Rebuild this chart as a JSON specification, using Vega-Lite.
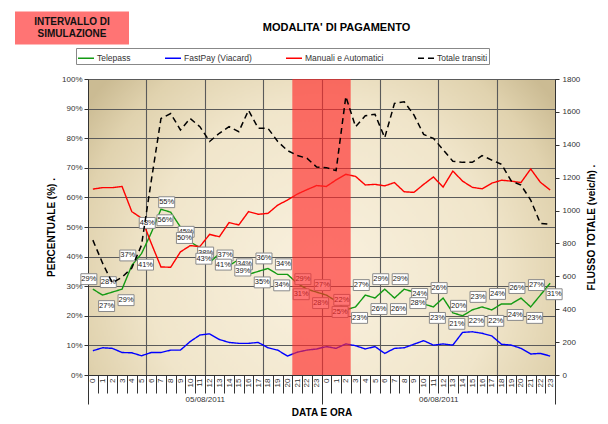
{
  "$schema": "https://vega.github.io/schema/vega-lite/v6.json",
  "width": 467,
  "height": 296,
  "autosize": {"type": "none"},
  "padding": {"left": 88, "top": 79, "right": 53, "bottom": 49},
  "background": "white",
  "title": {"text": "MODALITA' DI PAGAMENTO", "anchor": "middle", "frame": "group", "dx": 15, "offset": 0, "dy": 62, "font": "Liberation Sans", "fontSize": 11, "fontWeight": "bold", "color": "#000"},
  "datasets": {
    "serie": [
      {"idx": 0, "Telepass": 0.29, "FastPay (Viacard)": 0.082, "Manuali e Automatici": 0.628, "Totale transiti": 820},
      {"idx": 1, "Telepass": 0.27, "FastPay (Viacard)": 0.092, "Manuali e Automatici": 0.633, "Totale transiti": 680},
      {"idx": 2, "Telepass": 0.28, "FastPay (Viacard)": 0.090, "Manuali e Automatici": 0.633, "Totale transiti": 560},
      {"idx": 3, "Telepass": 0.29, "FastPay (Viacard)": 0.076, "Manuali e Automatici": 0.637, "Totale transiti": 595},
      {"idx": 4, "Telepass": 0.37, "FastPay (Viacard)": 0.075, "Manuali e Automatici": 0.552, "Totale transiti": 650},
      {"idx": 5, "Telepass": 0.41, "FastPay (Viacard)": 0.065, "Manuali e Automatici": 0.530, "Totale transiti": 790},
      {"idx": 6, "Telepass": 0.48, "FastPay (Viacard)": 0.076, "Manuali e Automatici": 0.445, "Totale transiti": 1180},
      {"idx": 7, "Telepass": 0.56, "FastPay (Viacard)": 0.076, "Manuali e Automatici": 0.365, "Totale transiti": 1560},
      {"idx": 8, "Telepass": 0.55, "FastPay (Viacard)": 0.084, "Manuali e Automatici": 0.364, "Totale transiti": 1590},
      {"idx": 9, "Telepass": 0.50, "FastPay (Viacard)": 0.084, "Manuali e Automatici": 0.416, "Totale transiti": 1490},
      {"idx": 10, "Telepass": 0.45, "FastPay (Viacard)": 0.113, "Manuali e Automatici": 0.437, "Totale transiti": 1560},
      {"idx": 11, "Telepass": 0.43, "FastPay (Viacard)": 0.135, "Manuali e Automatici": 0.434, "Totale transiti": 1510},
      {"idx": 12, "Telepass": 0.38, "FastPay (Viacard)": 0.139, "Manuali e Automatici": 0.475, "Totale transiti": 1420},
      {"idx": 13, "Telepass": 0.41, "FastPay (Viacard)": 0.120, "Manuali e Automatici": 0.467, "Totale transiti": 1470},
      {"idx": 14, "Telepass": 0.37, "FastPay (Viacard)": 0.110, "Manuali e Automatici": 0.515, "Totale transiti": 1510},
      {"idx": 15, "Telepass": 0.39, "FastPay (Viacard)": 0.107, "Manuali e Automatici": 0.507, "Totale transiti": 1480},
      {"idx": 16, "Telepass": 0.34, "FastPay (Viacard)": 0.107, "Manuali e Automatici": 0.552, "Totale transiti": 1610},
      {"idx": 17, "Telepass": 0.35, "FastPay (Viacard)": 0.110, "Manuali e Automatici": 0.543, "Totale transiti": 1500},
      {"idx": 18, "Telepass": 0.36, "FastPay (Viacard)": 0.092, "Manuali e Automatici": 0.546, "Totale transiti": 1500},
      {"idx": 19, "Telepass": 0.34, "FastPay (Viacard)": 0.084, "Manuali e Automatici": 0.574, "Totale transiti": 1420},
      {"idx": 20, "Telepass": 0.34, "FastPay (Viacard)": 0.064, "Manuali e Automatici": 0.591, "Totale transiti": 1365},
      {"idx": 21, "Telepass": 0.31, "FastPay (Viacard)": 0.077, "Manuali e Automatici": 0.611, "Totale transiti": 1335},
      {"idx": 22, "Telepass": 0.29, "FastPay (Viacard)": 0.084, "Manuali e Automatici": 0.626, "Totale transiti": 1318},
      {"idx": 23, "Telepass": 0.28, "FastPay (Viacard)": 0.088, "Manuali e Automatici": 0.640, "Totale transiti": 1265},
      {"idx": 24, "Telepass": 0.27, "FastPay (Viacard)": 0.096, "Manuali e Automatici": 0.637, "Totale transiti": 1261},
      {"idx": 25, "Telepass": 0.25, "FastPay (Viacard)": 0.090, "Manuali e Automatici": 0.659, "Totale transiti": 1243},
      {"idx": 26, "Telepass": 0.22, "FastPay (Viacard)": 0.105, "Manuali e Automatici": 0.678, "Totale transiti": 1693},
      {"idx": 27, "Telepass": 0.23, "FastPay (Viacard)": 0.099, "Manuali e Automatici": 0.671, "Totale transiti": 1510},
      {"idx": 28, "Telepass": 0.27, "FastPay (Viacard)": 0.088, "Manuali e Automatici": 0.642, "Totale transiti": 1577},
      {"idx": 29, "Telepass": 0.26, "FastPay (Viacard)": 0.096, "Manuali e Automatici": 0.644, "Totale transiti": 1585},
      {"idx": 30, "Telepass": 0.29, "FastPay (Viacard)": 0.073, "Manuali e Automatici": 0.639, "Totale transiti": 1443},
      {"idx": 31, "Telepass": 0.26, "FastPay (Viacard)": 0.090, "Manuali e Automatici": 0.650, "Totale transiti": 1652},
      {"idx": 32, "Telepass": 0.29, "FastPay (Viacard)": 0.092, "Manuali e Automatici": 0.619, "Totale transiti": 1662},
      {"idx": 33, "Telepass": 0.28, "FastPay (Viacard)": 0.104, "Manuali e Automatici": 0.617, "Totale transiti": 1581},
      {"idx": 34, "Telepass": 0.24, "FastPay (Viacard)": 0.116, "Manuali e Automatici": 0.644, "Totale transiti": 1463},
      {"idx": 35, "Telepass": 0.23, "FastPay (Viacard)": 0.101, "Manuali e Automatici": 0.669, "Totale transiti": 1439},
      {"idx": 36, "Telepass": 0.26, "FastPay (Viacard)": 0.105, "Manuali e Automatici": 0.635, "Totale transiti": 1370},
      {"idx": 37, "Telepass": 0.21, "FastPay (Viacard)": 0.101, "Manuali e Automatici": 0.689, "Totale transiti": 1300},
      {"idx": 38, "Telepass": 0.20, "FastPay (Viacard)": 0.144, "Manuali e Automatici": 0.655, "Totale transiti": 1293},
      {"idx": 39, "Telepass": 0.22, "FastPay (Viacard)": 0.146, "Manuali e Automatici": 0.634, "Totale transiti": 1293},
      {"idx": 40, "Telepass": 0.23, "FastPay (Viacard)": 0.141, "Manuali e Automatici": 0.629, "Totale transiti": 1334},
      {"idx": 41, "Telepass": 0.22, "FastPay (Viacard)": 0.132, "Manuali e Automatici": 0.648, "Totale transiti": 1307},
      {"idx": 42, "Telepass": 0.24, "FastPay (Viacard)": 0.104, "Manuali e Automatici": 0.658, "Totale transiti": 1281},
      {"idx": 43, "Telepass": 0.24, "FastPay (Viacard)": 0.101, "Manuali e Automatici": 0.655, "Totale transiti": 1180},
      {"idx": 44, "Telepass": 0.26, "FastPay (Viacard)": 0.090, "Manuali e Automatici": 0.650, "Totale transiti": 1155},
      {"idx": 45, "Telepass": 0.23, "FastPay (Viacard)": 0.071, "Manuali e Automatici": 0.696, "Totale transiti": 1064},
      {"idx": 46, "Telepass": 0.27, "FastPay (Viacard)": 0.073, "Manuali e Automatici": 0.651, "Totale transiti": 922},
      {"idx": 47, "Telepass": 0.31, "FastPay (Viacard)": 0.064, "Manuali e Automatici": 0.625, "Totale transiti": 916}
    ],
    "simulazione": [
      {"inizio": 20.5, "fine": 26.5, "intervallo": "INTERVALLO DI SIMULAZIONE"}
    ]
  },
  "layer": [
    {
      "layer": [
        {
          "data": {"name": "serie"},
          "transform": [{"fold": ["Telepass", "FastPay (Viacard)", "Manuali e Automatici"], "as": ["serie", "valore"]}],
          "mark": {"type": "line", "strokeWidth": 1.4},
          "encoding": {
            "x": {"field": "idx", "type": "quantitative", "scale": {"domain": [-0.5, 47.5], "nice": false, "zero": false},
              "axis": {"orient": "bottom", "values": [0,1,2,3,4,5,6,7,8,9,10,11,12,13,14,15,16,17,18,19,20,21,22,23,24,25,26,27,28,29,30,31,32,33,34,35,36,37,38,39,40,41,42,43,44,45,46,47],
                "labelExpr": "'' + (datum.value % 24)", "labelAngle": -90, "labelAlign": "right", "labelBaseline": "middle", "labelPadding": 3,
                "ticks": false, "grid": false, "domain": true, "domainColor": "#333", "title": null, "labelFontSize": 8, "labelOverlap": false, "labelFlush": false}},
            "y": {"field": "valore", "type": "quantitative", "scale": {"domain": [0, 1], "nice": false},
              "axis": {"orient": "left", "values": [0,0.1,0.2,0.3,0.4,0.5,0.6,0.7,0.8,0.9,1], "format": ".0%", "grid": true, "gridColor": "#5a5a5a", "gridWidth": 1.1,
                "tickSize": 4, "tickColor": "#333", "domainColor": "#333", "labelPadding": 2, "labelFlush": false, "labelOverlap": false,
                "title": "PERCENTUALE (%)   .", "titleFontSize": 10, "titleFontWeight": "bold", "titlePadding": 5, "titleColor": "#000"}},
            "color": {"field": "serie", "type": "nominal",
              "scale": {"domain": ["Telepass", "FastPay (Viacard)", "Manuali e Automatici", "Totale transiti"], "range": ["#139a13", "#0000ff", "#ff0000", "#000000"]},
              "legend": {"orient": "none", "legendX": -12, "legendY": -31, "direction": "horizontal", "columns": 4, "title": null,
                "symbolType": "stroke", "symbolSize": 256, "symbolStrokeWidth": 1.6, "labelFont": "Liberation Sans", "labelFontSize": 8.5, "labelColor": "#333",
                "labelOffset": 2, "columnPadding": 30, "padding": 1, "strokeColor": "#888",
                "labelExpr": "datum.label == 'Totale transiti' ? datum.label + '\u00a0\u00a0\u00a0\u00a0\u00a0\u00a0\u00a0\u00a0\u00a0\u00a0\u00a0\u00a0\u00a0\u00a0\u00a0\u00a0\u00a0\u00a0\u00a0\u00a0\u00a0\u00a0\u00a0\u00a0\u00a0\u00a0\u00a0\u00a0\u00a0\u00a0' : datum.label"}},
            "strokeDash": {"field": "serie", "type": "nominal",
              "scale": {"domain": ["Telepass", "FastPay (Viacard)", "Manuali e Automatici", "Totale transiti"], "range": [[1, 0], [1, 0], [1, 0], [6, 4]]},
              "legend": {"orient": "none", "legendX": -12, "legendY": -31, "direction": "horizontal", "columns": 4, "title": null,
                "symbolType": "stroke", "symbolSize": 256, "symbolStrokeWidth": 1.6, "labelFont": "Liberation Sans", "labelFontSize": 8.5, "labelColor": "#333",
                "labelOffset": 2, "columnPadding": 30, "padding": 1, "strokeColor": "#888",
                "labelExpr": "datum.label == 'Totale transiti' ? datum.label + '\u00a0\u00a0\u00a0\u00a0\u00a0\u00a0\u00a0\u00a0\u00a0\u00a0\u00a0\u00a0\u00a0\u00a0\u00a0\u00a0\u00a0\u00a0\u00a0\u00a0\u00a0\u00a0\u00a0\u00a0\u00a0\u00a0\u00a0\u00a0\u00a0\u00a0' : datum.label"}}
          }
        },
        {
          "data": {"name": "serie"},
          "transform": [{"filter": "datum.idx % 2 == 0"}],
          "mark": {"type": "point", "shape": "M-1,-0.68H1V0.68H-1Z", "size": 256, "filled": true, "fill": "white", "stroke": "#8a8a8a", "strokeWidth": 1, "opacity": 1, "yOffset": -10, "xOffset": -4},
          "encoding": {
            "x": {"field": "idx", "type": "quantitative", "scale": {"domain": [-0.5, 47.5], "nice": false, "zero": false},
              "axis": {"orient": "bottom", "values": [5.5, 11.5, 17.5, 23.5, 29.5, 35.5, 41.5], "grid": true, "gridColor": "#5a5a5a", "gridWidth": 1.1, "ticks": false, "labels": false, "domain": false, "title": null}},
            "y": {"field": "Telepass", "type": "quantitative", "scale": {"domain": [0, 1], "nice": false}, "axis": null}
          }
        },
        {
          "data": {"name": "serie"},
          "transform": [{"filter": "datum.idx % 2 == 0"}],
          "mark": {"type": "text", "yOffset": -10, "xOffset": -4, "font": "Liberation Sans", "fontSize": 7.5, "fill": "#222"},
          "encoding": {
            "x": {"field": "idx", "type": "quantitative", "scale": {"domain": [-0.5, 47.5], "nice": false, "zero": false},
              "axis": {"orient": "bottom", "values": [11.5, 35.5], "labelExpr": "datum.value < 24 ? '05/08/2011' : '06/08/2011'", "ticks": false, "domain": false, "grid": false,
                "labelPadding": 20, "labelBaseline": "top", "labelAngle": 0, "labelFontSize": 8, "labelFlush": false, "labelOverlap": false,
                "title": "DATA E ORA", "titleFontSize": 10, "titleFontWeight": "bold", "titlePadding": 4, "titleColor": "#000"}},
            "y": {"field": "Telepass", "type": "quantitative", "scale": {"domain": [0, 1], "nice": false}, "axis": null},
            "text": {"field": "Telepass", "type": "quantitative", "format": ".0%"}
          }
        },
        {
          "data": {"name": "serie"},
          "transform": [{"filter": "datum.idx % 2 == 1"}],
          "mark": {"type": "point", "shape": "M-1,-0.68H1V0.68H-1Z", "size": 256, "filled": true, "fill": "white", "stroke": "#8a8a8a", "strokeWidth": 1, "opacity": 1, "yOffset": 11, "xOffset": 4},
          "encoding": {
            "x": {"field": "idx", "type": "quantitative", "scale": {"domain": [-0.5, 47.5], "nice": false, "zero": false}, "axis": null},
            "y": {"field": "Telepass", "type": "quantitative", "scale": {"domain": [0, 1], "nice": false}, "axis": null}
          }
        },
        {
          "data": {"name": "serie"},
          "transform": [{"filter": "datum.idx % 2 == 1"}],
          "mark": {"type": "text", "yOffset": 11, "xOffset": 4, "font": "Liberation Sans", "fontSize": 7.5, "fill": "#222"},
          "encoding": {
            "x": {"field": "idx", "type": "quantitative", "scale": {"domain": [-0.5, 47.5], "nice": false, "zero": false},
              "axis": {"orient": "bottom", "values": [-0.5, 23.5, 47.5], "tickSize": 29, "tickColor": "#333", "labels": false, "domain": false, "grid": false, "title": null}},
            "y": {"field": "Telepass", "type": "quantitative", "scale": {"domain": [0, 1], "nice": false}, "axis": null},
            "text": {"field": "Telepass", "type": "quantitative", "format": ".0%"}
          }
        },
        {
          "data": {"name": "simulazione"},
          "mark": {"type": "rect", "opacity": 0.65},
          "encoding": {
            "x": {"field": "inizio", "type": "quantitative", "scale": {"domain": [-0.5, 47.5], "nice": false, "zero": false},
              "axis": {"orient": "bottom", "values": [-0.5,0.5,1.5,2.5,3.5,4.5,5.5,6.5,7.5,8.5,9.5,10.5,11.5,12.5,13.5,14.5,15.5,16.5,17.5,18.5,19.5,20.5,21.5,22.5,23.5,24.5,25.5,26.5,27.5,28.5,29.5,30.5,31.5,32.5,33.5,34.5,35.5,36.5,37.5,38.5,39.5,40.5,41.5,42.5,43.5,44.5,45.5,46.5,47.5],
                "tickSize": 18, "tickColor": "#333", "labels": false, "domain": false, "grid": false, "title": null}},
            "x2": {"field": "fine"},
            "fill": {"field": "intervallo", "type": "nominal", "scale": {"range": ["#ff2a2a"]},
              "legend": {"orient": "none", "legendX": -73, "legendY": -108, "title": null, "padding": 0,
                "symbolType": "M-1,-0.29H1V0.29H-1Z", "symbolSize": 12996, "symbolStrokeWidth": 0, "symbolOpacity": 0.65,
                "labelExpr": "['INTERVALLO DI', 'SIMULAZIONE']", "labelAlign": "center", "labelBaseline": "line-bottom", "labelOffset": -57, "labelFont": "Liberation Sans",
                "labelFontSize": 10, "labelFontWeight": "bold", "labelColor": "#111", "labelLineHeight": 14, "labelLimit": 200}}
          }
        }
      ],
      "resolve": {"axis": {"x": "independent", "y": "independent"}}
    },
    {
      "data": {"name": "serie"},
      "transform": [{"fold": ["Totale transiti"], "as": ["serie", "valore"]}],
      "mark": {"type": "line", "strokeWidth": 1.5},
      "encoding": {
        "x": {"field": "idx", "type": "quantitative", "scale": {"domain": [-0.5, 47.5], "nice": false, "zero": false}, "axis": null},
        "y": {"field": "valore", "type": "quantitative", "scale": {"domain": [0, 1800], "nice": false},
          "axis": {"orient": "right", "values": [0,200,400,600,800,1000,1200,1400,1600,1800], "format": "d", "grid": false, "tickSize": 4, "tickColor": "#333", "domainColor": "#333",
            "labelPadding": 3, "labelFlush": false, "title": "FLUSSO TOTALE (veic/h)   .", "titleAngle": 270, "titleFontSize": 10, "titleFontWeight": "bold", "titlePadding": 17, "titleColor": "#000"}},
        "color": {"field": "serie", "type": "nominal",
          "scale": {"domain": ["Telepass", "FastPay (Viacard)", "Manuali e Automatici", "Totale transiti"], "range": ["#139a13", "#0000ff", "#ff0000", "#000000"]}},
        "strokeDash": {"field": "serie", "type": "nominal",
          "scale": {"domain": ["Telepass", "FastPay (Viacard)", "Manuali e Automatici", "Totale transiti"], "range": [[1, 0], [1, 0], [1, 0], [6, 4]]}}
      }
    }
  ],
  "resolve": {"scale": {"y": "independent"}, "axis": {"x": "independent", "y": "independent"}},
  "config": {
    "font": "Liberation Sans",
    "view": {"stroke": "#8c8c8c",
      "fill": {"gradient": "radial", "x1": 0.5, "y1": 0.6, "r1": 0, "x2": 0.5, "y2": 0.6, "r2": 0.62,
        "stops": [{"offset": 0, "color": "#f9f1df"}, {"offset": 0.6, "color": "#f0e5ca"}, {"offset": 0.85, "color": "#e0d2ae"}, {"offset": 1, "color": "#cbbb93"}]}},
    "axis": {"labelFont": "Liberation Sans", "labelFontSize": 8, "labelColor": "#333", "titleFont": "Liberation Sans", "titleColor": "#000"}
  }
}
